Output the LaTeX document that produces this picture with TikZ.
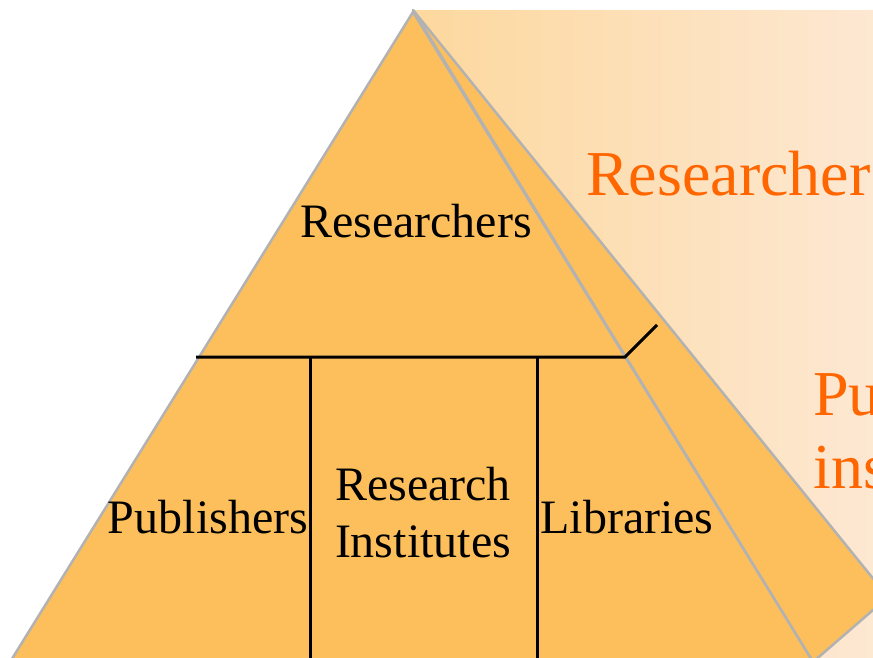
\documentclass[tikz,border=0pt]{standalone}
\usepackage{fontspec}
\setmainfont{Liberation Serif}
\definecolor{pyr}{HTML}{FDBF5C}
\definecolor{edge}{HTML}{B2B2B2}
\definecolor{bgl}{HTML}{FDD89E}
\definecolor{bgr}{HTML}{FDE8D3}
\definecolor{hl}{HTML}{FF6600}
\tikzset{
  face/.style={fill=pyr, draw=edge, line width=2.5pt, line join=round},
  divider/.style={draw=black, line width=3pt},
  lbl/.style={font=\fontsize{48}{57}\selectfont, text=black, inner sep=0pt, align=center},
  big/.style={font=\fontsize{64}{73}\selectfont, text=hl, inner sep=0pt, anchor=base west}
}
\begin{document}
\begin{tikzpicture}[x=1pt,y=-1pt]
\useasboundingbox (0,0) rectangle (873,658);
\clip (0,0) rectangle (873,658);
% background gradient panel
\shade[left color=bgl, right color=bgr] (413,11) rectangle (880,680);
% pyramid coordinates
\coordinate (apexs) at (413,10);
\coordinate (apex) at (413,12);
\coordinate (back) at (888,597);
\coordinate (fr) at (813,662);
\coordinate (fl) at (10,662);
% side face
\path[face] (apexs) -- (back) -- (fr) -- cycle;
% front face
\path[face] (apex) -- (fl) -- (fr) -- cycle;
% dividers
\coordinate (hL) at (196,357);
\coordinate (hR) at (625,357);
\coordinate (hD) at (657,325);
\coordinate (v1t) at (310,357);
\coordinate (v1b) at (310,670);
\coordinate (v2t) at (537,357);
\coordinate (v2b) at (537,670);
\draw[divider, line join=miter] (hL) -- (hR) -- (hD);
\draw[divider] (v1t) -- (v1b);
\draw[divider] (v2t) -- (v2b);
% labels
\node[lbl, anchor=base] (res) at (416,237) {Researchers};
\node[lbl, anchor=base] (pub) at (208,533) {Publishers};
\node[lbl, anchor=base] (ri) at (423,557) {Research\\Institutes};
\node[lbl, anchor=base] (lib) at (627,533) {Libraries};
% orange labels on the side panel
\node[big] (t1) at (586,195) {Researcher};
\node[big] (t2) at (813,415) {Pu};
\node[big] (t3) at (813,488) {ins};
\end{tikzpicture}
\end{document}
